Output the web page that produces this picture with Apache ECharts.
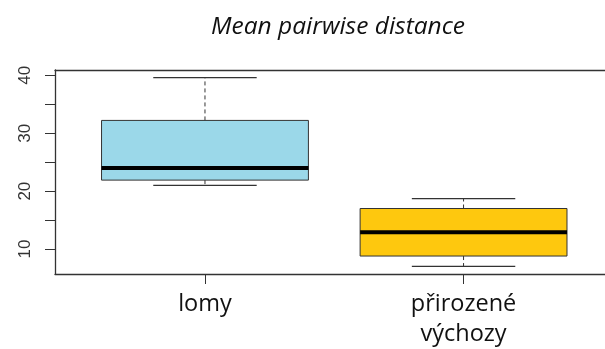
<!DOCTYPE html>
<html>
<head>
<meta charset="utf-8">
<script src="https://cdn.jsdelivr.net/npm/echarts@6/dist/echarts.min.js"></script>
<style>
  html, body { margin: 0; padding: 0; background: #fff; }
  #chart { width: 605px; height: 349px; }
</style>
</head>
<body>
<div id="chart"></div>
<script>
// Five-number summaries of mean pairwise distance per site type
const categories = ['lomy', 'přirozené\nvýchozy'];
const whiskerLow = [21.0, 7.0];
const quartile1 = [21.9, 8.8];
const medians = [24.0, 12.9];
const quartile3 = [32.2, 17.0];
const whiskerHigh = [39.6, 18.7];
const boxColors = ['#9BD8E9', '#FEC80E'];
const yTickValues = [10, 15, 20, 25, 30, 35, 40];
const yLabelValues = [10, 20, 30, 40];

const boxData = categories.map((c, i) => [
  i + 1, whiskerLow[i], quartile1[i], medians[i], quartile3[i], whiskerHigh[i]
]);

const BOX_HALF = 0.4;
const CAP_HALF = 0.2;
const EDGE = '#333';
const TEXT_FONT = 'Open Sans';

function renderBox(params, api) {
  const x = api.value(0);
  const lo = api.value(1), q1 = api.value(2), med = api.value(3),
        q3 = api.value(4), hi = api.value(5);
  const tl = api.coord([x - BOX_HALF, q3]);
  const br = api.coord([x + BOX_HALF, q1]);
  const mid = api.coord([x, med]);
  const pLo = api.coord([x, lo]);
  const pHi = api.coord([x, hi]);
  const capL = api.coord([x - CAP_HALF, lo])[0];
  const capR = api.coord([x + CAP_HALF, lo])[0];
  const dashed = { stroke: EDGE, lineWidth: 1, lineDash: [4, 3] };
  const solid = { stroke: EDGE, lineWidth: 1.3 };
  return {
    type: 'group',
    children: [
      { type: 'line', shape: { x1: mid[0], y1: tl[1], x2: mid[0], y2: pHi[1] }, style: dashed },
      { type: 'line', shape: { x1: mid[0], y1: br[1], x2: mid[0], y2: pLo[1] }, style: dashed },
      { type: 'line', shape: { x1: capL, y1: pHi[1], x2: capR, y2: pHi[1] }, style: solid },
      { type: 'line', shape: { x1: capL, y1: pLo[1], x2: capR, y2: pLo[1] }, style: solid },
      {
        type: 'rect',
        shape: { x: tl[0], y: tl[1], width: br[0] - tl[0], height: br[1] - tl[1] },
        style: { fill: boxColors[params.dataIndex], stroke: EDGE, lineWidth: 1 }
      },
      { type: 'line', shape: { x1: tl[0], y1: mid[1], x2: br[0], y2: mid[1] },
        style: { stroke: '#000', lineWidth: 4 } }
    ]
  };
}

// The plot frame runs past the right edge of the canvas, so the visible
// x range stops a little before the far end of the 0.42..2.58 span.
const chart = echarts.init(document.getElementById('chart'), null, { renderer: 'canvas' });
chart.setOption({
  animation: false,
  backgroundColor: '#fff',
  title: {
    text: 'Mean pairwise distance',
    left: 333,
    textAlign: 'center',
    top: 10,
    textStyle: {
      fontFamily: TEXT_FONT, fontStyle: 'italic', fontWeight: 'normal',
      fontSize: 24.5, color: '#111'
    }
  },
  grid: { left: 55, top: 70, width: 550, height: 206, show: false },
  xAxis: [{
    type: 'value', min: 0.42, max: 2.547,
    splitLine: { show: false },
    axisLine: { show: true, lineStyle: { color: EDGE, width: 1.3 } },
    axisTick: { show: true, length: 10, customValues: [1, 2], lineStyle: { color: EDGE } },
    axisLabel: {
      customValues: [1, 2],
      formatter: v => categories[Math.round(v) - 1],
      margin: 15,
      fontFamily: TEXT_FONT, fontSize: 23.5, color: '#111', lineHeight: 30
    }
  }, {
    type: 'value', position: 'top', min: 0.42, max: 2.547,
    splitLine: { show: false },
    axisLine: { show: true, lineStyle: { color: EDGE, width: 1.3 } },
    axisTick: { show: false },
    axisLabel: { show: false }
  }],
  yAxis: {
    type: 'value', min: 5.7, max: 40.9,
    splitLine: { show: false },
    axisLine: { show: true, lineStyle: { color: EDGE, width: 1.3 } },
    axisTick: { show: true, length: 10, customValues: yTickValues, lineStyle: { color: EDGE } },
    axisLabel: {
      customValues: yLabelValues,
      rotate: 90,
      margin: 21,
      fontFamily: 'Liberation Sans', fontSize: 17, color: '#333'
    }
  },
  series: [{
    type: 'custom',
    renderItem: renderBox,
    data: boxData,
    encode: { x: 0, y: [1, 2, 3, 4, 5] },
    clip: false
  }]
});
</script>
</body>
</html>
